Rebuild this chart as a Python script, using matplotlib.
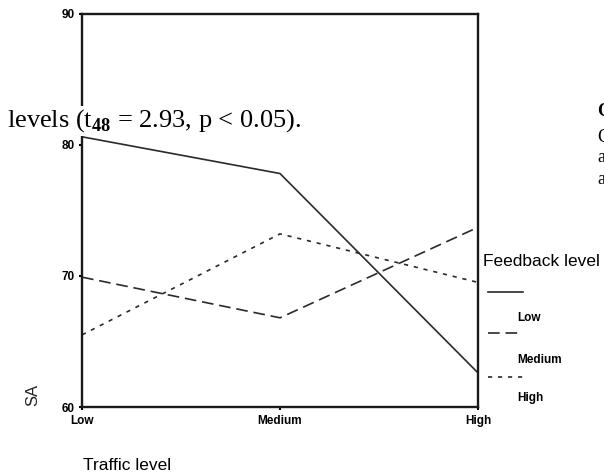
import numpy as np
import matplotlib.pyplot as plt
from matplotlib.lines import Line2D

plt.rcParams['font.family'] = ['Liberation Sans', 'DejaVu Sans']
plt.rcParams['mathtext.fontset'] = 'custom'
plt.rcParams['mathtext.rm'] = 'Liberation Serif'
plt.rcParams['mathtext.bf'] = 'Liberation Serif:bold'

traffic = ['Low', 'Medium', 'High']
feedback = ['Low', 'Medium', 'High']
sa_low = [80.6, 77.8, 62.6]
sa_medium = [69.9, 66.8, 73.7]
sa_high = [65.5, 73.2, 69.5]
yticks = [60, 70, 80, 90]

W, H = 604, 476
fig = plt.figure(figsize=(W / 100, H / 100), dpi=100)
ax = fig.add_axes([82 / W, 1 - 407 / H, (478 - 82) / W, (407 - 13.5) / H])

x = np.arange(len(traffic))
styles = ['-', (0, (7, 3.5)), (0, (2.5, 3.5))]
series = [sa_low, sa_medium, sa_high]
for vals, ls in zip(series, styles):
    ax.plot(x, vals, color='#2a2a2a', lw=1.2, linestyle=ls)

ax.set_xlim(0, 2)
ax.set_ylim(60, 90)
ax.set_xticks(x)
ax.set_xticklabels(traffic, fontsize=8.5, fontweight='bold')
ax.set_yticks(yticks)
ax.set_yticklabels([str(v) for v in yticks], fontsize=8.5, fontweight='bold')
ax.tick_params(length=2.5, width=1.5, pad=3)
for s in ax.spines.values():
    s.set_linewidth(1.7)
    s.set_color('#1a1a1a')

def fx(px):
    return px / W

def fy(py):
    return 1 - py / H

fig.text(fx(33), fy(395), 'SA', rotation=90, ha='center', va='center',
         fontsize=12, color='#222222')
fig.text(fx(83), fy(465), 'Traffic level', ha='left', va='center', fontsize=12.5)

# legend drawn by hand to keep the scanned layout
fig.text(fx(483), fy(262), 'Feedback level', ha='left', va='center', fontsize=12.5)
for (lab, ls), yl, yt in zip(zip(feedback, styles), [292, 333, 377], [318, 360, 398]):
    fig.add_artist(Line2D([fx(488), fx(523)], [fy(yl), fy(yl)], color='#2a2a2a',
                          lw=1.2, linestyle=ls, transform=fig.transFigure))
    fig.text(fx(517), fy(yt), lab, ha='left', va='center', fontsize=8.5, fontweight='bold')

# scanned page text overlapping the figure
fig.text(fx(7), fy(127), r'levels (t$_\mathbf{48}$ = 2.93, p < 0.05).',
         family='Liberation Serif', fontsize=19, ha='left', va='baseline',
         bbox=dict(facecolor='white', edgecolor='none', pad=1))
fig.text(fx(597), fy(112), 'C', family='Liberation Serif', fontweight='bold',
         fontsize=13, ha='left', va='center')
for txt, yy in zip(['C', 'a', 'a'], [137, 158, 180]):
    fig.text(fx(597), fy(yy), txt, family='Liberation Serif', fontsize=13,
             ha='left', va='center')

fig.savefig('out.png', dpi=100)
